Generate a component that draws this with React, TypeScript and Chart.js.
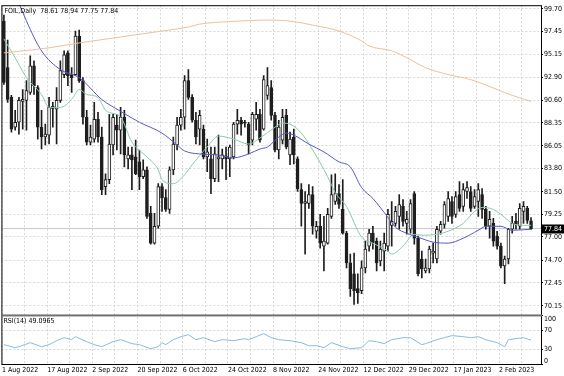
import React, { useEffect, useRef } from 'react';
import { Chart, registerables } from 'chart.js';

Chart.register(...registerables);

const SYMBOL = 'FOIL';
const PERIOD = 'Daily';
const RSI_NAME = 'RSI(14)';
const RSI_LAST = '49.0965';

const X_LABELS = ['1 Aug 2022', '17 Aug 2022', '2 Sep 2022', '20 Sep 2022', '6 Oct 2022', '24 Oct 2022', '8 Nov 2022', '24 Nov 2022', '12 Dec 2022', '29 Dec 2022', '17 Jan 2023', '2 Feb 2023'];
const PRICE_TICKS = [99.70, 97.45, 95.15, 92.90, 90.60, 88.35, 86.05, 83.80, 81.50, 79.25, 77.00, 74.70, 72.45, 70.15];
const RSI_TICKS = [0, 30, 70, 100];

const OPEN = [
  98.47, 93.84, 90.88, 87.92, 88.41, 90.48, 90.58, 91.37, 94.03, 91.86,
  87.92, 86.94, 87.13, 89.99, 89.70, 90.58, 93.15, 95.31, 93.15, 93.15,
  96.99, 92.55, 88.91, 86.44, 86.74, 88.71, 86.94, 82.01, 82.70, 86.15,
  88.12, 87.63, 88.91, 84.77, 85.16, 84.97, 84.47, 83.00, 83.68, 79.35,
  76.39, 78.07, 82.01, 80.92, 79.74, 83.68, 86.15, 88.12, 88.91, 92.55,
  90.88, 88.61, 87.73, 87.73, 84.97, 84.77, 82.80, 84.77, 84.77, 85.06,
  84.77, 84.97, 88.22, 88.61, 88.41, 88.22, 86.64, 88.71, 89.20, 87.73,
  91.08, 91.86, 89.10, 85.65, 86.64, 89.10, 85.16, 86.94, 84.77, 81.71,
  80.33, 80.33, 81.22, 77.57, 78.07, 76.09, 76.39, 79.05, 80.53, 81.32,
  79.74, 77.38, 74.42, 73.33, 71.86, 71.66, 73.93, 76.09, 77.38, 76.59,
  74.62, 75.60, 76.09, 78.16, 78.36, 79.05, 80.04, 78.36, 77.77, 81.32,
  76.88, 74.81, 73.63, 73.83, 75.40, 74.81, 77.57, 78.26, 79.05, 80.53,
  79.25, 81.22, 80.04, 81.52, 81.52, 80.04, 80.53, 81.22, 79.74, 78.07,
  78.36, 77.08, 76.09, 74.12, 74.81, 77.77, 78.56, 78.07, 79.54, 79.84,
  78.61,
];
const HIGH = [
  99.06, 96.59, 91.08, 89.59, 90.88, 91.67, 92.55, 95.02, 94.53, 92.06,
  89.59, 88.22, 90.88, 90.39, 91.86, 94.53, 95.51, 95.51, 93.84, 97.48,
  97.58, 92.85, 89.59, 88.12, 90.39, 89.40, 87.92, 83.29, 89.20, 89.20,
  89.20, 89.89, 89.59, 85.95, 85.95, 86.64, 85.65, 84.67, 83.98, 80.04,
  79.35, 82.30, 82.30, 81.71, 83.98, 86.94, 88.91, 89.70, 93.05, 93.64,
  91.17, 89.40, 89.59, 88.12, 86.74, 85.95, 85.95, 87.13, 85.75, 85.95,
  86.15, 88.41, 89.70, 88.91, 88.61, 88.41, 89.40, 90.39, 89.70, 93.05,
  93.84, 92.55, 89.40, 88.61, 89.70, 89.70, 87.43, 87.73, 84.97, 82.30,
  81.52, 82.21, 82.01, 78.56, 79.25, 79.05, 79.84, 83.19, 83.29, 82.21,
  82.70, 77.57, 75.30, 75.40, 73.33, 74.62, 76.59, 77.77, 78.07, 76.88,
  76.59, 77.38, 79.74, 80.53, 80.04, 81.22, 80.73, 79.54, 80.73, 81.52,
  77.08, 75.60, 74.81, 76.09, 76.39, 78.07, 78.56, 80.53, 81.52, 81.02,
  81.52, 82.50, 82.30, 82.50, 82.01, 81.71, 82.30, 81.81, 80.04, 79.54,
  78.85, 77.57, 76.39, 75.11, 77.87, 79.05, 79.35, 80.33, 80.53, 80.04,
  78.94,
];
const LOW = [
  92.16, 90.39, 87.43, 87.63, 87.23, 87.73, 87.63, 91.17, 91.17, 86.74,
  85.75, 86.15, 86.25, 87.92, 86.25, 90.39, 92.85, 92.06, 91.37, 93.05,
  92.36, 88.22, 86.15, 86.15, 86.44, 86.44, 81.22, 81.22, 82.30, 85.16,
  85.65, 85.26, 83.98, 83.78, 81.71, 83.19, 81.71, 82.80, 78.85, 76.29,
  76.29, 77.87, 79.54, 79.54, 79.35, 83.19, 85.65, 87.63, 87.73, 90.68,
  88.41, 86.25, 86.15, 84.77, 83.49, 81.32, 82.50, 82.50, 83.78, 82.70,
  83.00, 84.77, 87.23, 87.13, 87.92, 85.26, 86.15, 87.63, 86.44, 87.63,
  90.68, 88.61, 85.46, 84.77, 86.25, 85.75, 84.18, 84.27, 81.52, 78.07,
  75.30, 79.84, 77.28, 76.88, 75.90, 73.63, 76.29, 78.85, 80.23, 79.84,
  77.28, 73.93, 71.10, 70.30, 70.40, 71.36, 73.43, 75.60, 75.80, 73.63,
  74.12, 73.63, 75.60, 76.09, 78.07, 77.77, 78.07, 77.28, 77.38, 76.29,
  73.14, 72.94, 73.43, 73.43, 74.42, 74.42, 77.28, 77.87, 78.56, 78.36,
  78.95, 79.54, 79.54, 80.83, 79.54, 79.84, 79.05, 78.85, 77.77, 76.88,
  76.09, 75.80, 73.93, 72.35, 74.32, 77.38, 77.77, 77.77, 78.36, 78.36,
  77.75,
];
const CLOSE = [
  92.36, 90.68, 87.73, 88.41, 90.58, 90.68, 91.57, 94.03, 92.06, 87.92,
  86.94, 87.23, 89.89, 89.79, 90.58, 93.54, 95.12, 93.05, 92.85, 96.99,
  92.55, 88.91, 86.44, 86.94, 88.71, 86.94, 81.71, 82.70, 86.25, 88.91,
  87.63, 88.91, 85.16, 85.16, 84.67, 83.29, 83.00, 83.68, 79.05, 76.39,
  78.07, 82.01, 80.92, 79.74, 83.68, 86.25, 88.12, 88.91, 92.55, 90.88,
  88.61, 86.94, 89.10, 84.97, 85.46, 82.80, 85.26, 84.97, 85.16, 84.77,
  85.95, 88.22, 88.61, 88.22, 88.32, 86.15, 89.20, 89.20, 86.64, 92.65,
  92.06, 89.10, 85.65, 87.92, 88.91, 85.95, 86.74, 85.16, 81.81, 80.33,
  80.53, 81.22, 78.07, 78.07, 76.39, 76.59, 79.25, 81.22, 81.32, 80.23,
  77.38, 74.42, 71.86, 71.66, 71.46, 73.93, 75.80, 77.38, 76.39, 74.42,
  75.80, 76.39, 79.25, 78.56, 79.54, 80.23, 78.56, 78.76, 80.33, 76.88,
  73.33, 73.83, 73.93, 75.80, 75.60, 77.77, 78.26, 80.23, 80.83, 79.05,
  81.02, 79.84, 81.71, 81.91, 79.84, 81.02, 81.71, 79.74, 78.07, 78.76,
  76.59, 76.09, 74.12, 74.81, 77.77, 78.36, 78.26, 79.84, 80.04, 78.66,
  77.84,
];

// slow moving average (tan), read at sampled bars
const MA_SLOW_IDX = [0, 12, 20, 31, 42, 49, 52, 60, 71, 76, 82, 89, 95, 97, 103, 107, 112, 118, 124, 131, 135, 140];
const MA_SLOW = [95.31, 95.81, 96.30, 96.89, 97.48, 97.88, 98.17, 98.42, 98.57, 98.47, 98.07, 97.48, 96.50, 96.00, 95.51, 94.82, 93.84, 93.15, 92.65, 91.67, 91.08, 90.49];
// medium moving average (blue)
const MA_MID_IDX = [0, 4, 6, 10, 15, 20, 26, 31, 36, 42, 46, 48, 52, 57, 61, 65, 68, 70, 73, 75, 77, 81, 85, 89, 92, 95, 98, 102, 104, 107, 110, 114, 118, 122, 126, 128, 132, 135, 140];
const MA_MID = [103.2, 100.24, 98.47, 95.51, 93.64, 92.85, 90.68, 89.50, 88.41, 87.33, 86.15, 85.56, 85.26, 85.16, 84.87, 85.26, 85.75, 85.95, 86.93, 87.33, 87.13, 86.24, 85.46, 84.47, 83.98, 81.91, 80.83, 78.95, 77.97, 77.37, 76.98, 76.49, 76.39, 76.88, 77.67, 78.06, 78.06, 77.67, 77.77];
// fast moving average (green)
const MA_FAST_IDX = [0, 3, 6, 10, 12, 15, 18, 20, 22, 25, 27, 31, 34, 38, 41, 42, 45, 48, 50, 54, 57, 61, 65, 68, 72, 74, 76, 79, 82, 86, 88, 91, 95, 98, 102, 103, 106, 109, 111, 115, 118, 122, 125, 127, 130, 133, 135, 138, 140];
const MA_FAST = [96.70, 94.82, 92.85, 91.17, 89.89, 89.89, 90.68, 91.67, 91.17, 90.88, 89.60, 88.91, 86.44, 84.96, 83.68, 82.70, 82.30, 83.19, 84.18, 85.95, 87.03, 86.74, 86.24, 86.84, 87.92, 88.32, 88.22, 87.33, 85.66, 82.99, 81.42, 80.04, 76.98, 76.39, 75.60, 75.30, 76.09, 77.27, 77.17, 77.27, 77.57, 78.36, 79.54, 79.94, 79.74, 78.95, 78.36, 78.16, 78.16];

const RSI_IDX = [0, 3, 4, 7, 10, 12, 14, 16, 18, 19, 22, 24, 26, 29, 31, 34, 36, 39, 41, 42, 43, 45, 47, 49, 51, 53, 56, 58, 61, 64, 65, 67, 69, 71, 73, 76, 79, 81, 83, 85, 87, 90, 92, 95, 97, 99, 101, 103, 106, 108, 111, 112, 115, 117, 119, 122, 124, 126, 128, 131, 133, 134, 136, 138, 140];
const RSI_VAL = [39.8, 33.6, 35.7, 43.9, 35.7, 39.8, 48.0, 54.2, 50.1, 56.3, 46.0, 39.8, 35.7, 46.0, 50.1, 41.9, 39.8, 31.5, 35.7, 43.9, 39.8, 50.1, 56.3, 60.4, 50.1, 54.2, 46.0, 50.1, 48.0, 52.2, 50.1, 56.3, 62.5, 54.2, 50.1, 48.0, 43.9, 37.7, 37.7, 33.6, 43.9, 35.7, 31.5, 33.6, 48.0, 46.0, 41.9, 50.1, 54.2, 54.2, 39.8, 41.9, 50.1, 54.2, 58.4, 56.3, 54.2, 56.3, 50.1, 43.9, 35.7, 50.1, 52.2, 54.2, 49.1];

const FONT = "'Liberation Sans Narrow', 'DejaVu Sans Condensed', 'Liberation Sans', Arial, sans-serif";
const GRID = '#d6d6d6';
const CANDLE = '#1e1e1e';
const X_MIN = -0.66;
const X_MAX = 142.65;
const PRICE_MIN = 69.2;
const PRICE_MAX = 100.05;

const pts = (idx: number[], vals: number[]) => idx.map((x, i) => ({ x, y: vals[i] }));

const decor = {
  id: 'decor',
  beforeDraw(chart: any) {
    const { ctx, width, height } = chart;
    ctx.save();
    ctx.fillStyle = '#ffffff';
    ctx.fillRect(0, 0, width, height);
    ctx.restore();
  },
  afterDraw(chart: any) {
    const { ctx, chartArea } = chart;
    const y = chart.scales.y;
    const r = chart.scales.yR;
    const L = chartArea.left;
    const R = chartArea.right;
    ctx.save();
    ctx.strokeStyle = '#000';
    ctx.lineWidth = 1;
    ctx.strokeRect(L + 0.5, y.top + 0.5, R - L, r.bottom - y.top);
    // panel separator
    ctx.fillStyle = '#707070';
    ctx.fillRect(L, y.bottom - 1, R - L + 1, 2);
    // last price box
    const last = CLOSE.length - 1;
    const py = y.getPixelForValue(CLOSE[last]);
    ctx.fillStyle = '#000';
    ctx.fillRect(R + 1, Math.round(py) - 4.5, 23, 9);
    ctx.fillStyle = '#fff';
    ctx.font = `7px ${FONT}`;
    ctx.textBaseline = 'middle';
    ctx.textAlign = 'left';
    ctx.fillText(CLOSE[last].toFixed(2), R + 3, Math.round(py));
    // RSI scale end labels kept inside the pane, as in the terminal
    ctx.fillStyle = '#000';
    const rsiTop = RSI_TICKS[RSI_TICKS.length - 1];
    const rsiBottom = RSI_TICKS[0];
    ctx.fillText(String(rsiTop), R + 3, r.getPixelForValue(rsiTop) + 4);
    ctx.fillText(String(rsiBottom), R + 3, r.getPixelForValue(rsiBottom) - 3);
    // captions
    ctx.fillText(`${SYMBOL},${PERIOD}  ${OPEN[last].toFixed(2)} ${HIGH[last].toFixed(2)} ${LOW[last].toFixed(2)} ${CLOSE[last].toFixed(2)}`, L + 3, y.top + 6);
    ctx.fillText(`${RSI_NAME} ${RSI_LAST}`, L + 2, r.top + 6);
    ctx.restore();
  },
};

export default function App() {
  const ref = useRef<HTMLCanvasElement | null>(null);
  useEffect(() => {
    if (!ref.current) return;
    const last = CLOSE.length - 1;
    const bodies = OPEN.map((o, i) => ({ x: i, y: [o, CLOSE[i]] }));
    const wicks = LOW.map((l, i) => ({ x: i, y: [l, HIGH[i]] }));
    const chart = new Chart(ref.current, {
      type: 'bar',
      data: {
        datasets: [
          {
            type: 'line',
            data: pts(MA_SLOW_IDX, MA_SLOW) as any,
            borderColor: '#ecc29a',
            borderWidth: 1,
            pointRadius: 0,
            cubicInterpolationMode: 'monotone',
            yAxisID: 'y',
            order: 0,
          },
          {
            type: 'line',
            data: pts(MA_MID_IDX, MA_MID) as any,
            borderColor: '#5a58c6',
            borderWidth: 1,
            pointRadius: 0,
            cubicInterpolationMode: 'monotone',
            yAxisID: 'y',
            order: 0,
          },
          {
            type: 'line',
            data: pts(MA_FAST_IDX, MA_FAST) as any,
            borderColor: '#8ccaa8',
            borderWidth: 1,
            pointRadius: 0,
            cubicInterpolationMode: 'monotone',
            yAxisID: 'y',
            order: 0,
          },
          {
            type: 'line',
            data: pts(RSI_IDX, RSI_VAL) as any,
            borderColor: '#86bce6',
            borderWidth: 1,
            pointRadius: 0,
            tension: 0,
            yAxisID: 'yR',
            order: 0,
          },
          {
            type: 'bar',
            data: bodies as any,
            backgroundColor: bodies.map((b, i) => (CLOSE[i] >= OPEN[i] ? '#ffffff' : CANDLE)),
            borderColor: CANDLE,
            borderWidth: 1,
            borderSkipped: false,
            barThickness: 3,
            minBarLength: 1,
            grouped: false,
            yAxisID: 'y',
            order: 1,
          },
          {
            type: 'bar',
            data: wicks as any,
            backgroundColor: CANDLE,
            borderWidth: 0,
            barThickness: 1,
            grouped: false,
            yAxisID: 'y',
            order: 2,
          },
          {
            type: 'line',
            data: [{ x: X_MIN, y: CLOSE[last] }, { x: X_MAX, y: CLOSE[last] }] as any,
            borderColor: '#c8c8c8',
            borderWidth: 1,
            pointRadius: 0,
            yAxisID: 'y',
            order: 3,
          },
        ],
      },
      options: {
        animation: false,
        responsive: false,
        devicePixelRatio: 1,
        events: [],
        layout: { padding: { left: 1, top: 2, right: 0, bottom: 0 } },
        plugins: { legend: { display: false }, tooltip: { enabled: false }, title: { display: false } },
        scales: {
          x: {
            type: 'linear',
            min: X_MIN,
            max: X_MAX,
            offset: false,
            afterBuildTicks: (s: any) => {
              const t = [];
              for (let k = 0; k * 6 - 0.5 < X_MAX - 2; k++) t.push({ value: k * 6 - 0.5 });
              s.ticks = t;
            },
            afterFit: (s: any) => { s.height = 12; },
            ticks: {
              autoSkip: false,
              maxRotation: 0,
              minRotation: 0,
              align: 'start',
              padding: 2,
              color: '#000',
              font: { family: FONT, size: 7 },
              callback: (_v: any, i: number) => (i % 2 === 0 ? X_LABELS[i / 2] ?? '' : ''),
            },
            grid: { color: GRID, drawTicks: false, offset: false },
            border: { display: false, dash: [2, 2] },
          },
          y: {
            type: 'linear',
            position: 'right',
            stack: 'panes',
            stackWeight: 313,
            min: PRICE_MIN,
            max: PRICE_MAX,
            afterBuildTicks: (s: any) => { s.ticks = PRICE_TICKS.map((v) => ({ value: v })); },
            afterFit: (s: any) => { s.width = 23; },
            ticks: {
              autoSkip: false,
              padding: 1,
              color: '#000',
              font: { family: FONT, size: 7 },
              callback: (v: any) => Number(v).toFixed(2),
            },
            grid: { color: GRID, tickLength: 2, tickColor: '#000' },
            border: { display: false, dash: [2, 2] },
          },
          yR: {
            type: 'linear',
            position: 'right',
            stack: 'panes',
            stackWeight: 49,
            weight: 1,
            min: 0,
            max: 100,
            afterBuildTicks: (s: any) => { s.ticks = RSI_TICKS.map((v) => ({ value: v })); },
            afterFit: (s: any) => { s.width = 23; },
            ticks: {
              autoSkip: false,
              padding: 1,
              color: '#000',
              font: { family: FONT, size: 7 },
              callback: (v: any) => (v === 30 || v === 70 ? String(v) : ''),
            },
            grid: {
              color: (c: any) => (c.tick && (c.tick.value === 30 || c.tick.value === 70) ? GRID : 'rgba(0,0,0,0)'),
              tickLength: 2,
              tickColor: '#000',
            },
            border: { display: false, dash: [2, 2] },
          },
        },
      } as any,
      plugins: [decor],
    });
    return () => chart.destroy();
  }, []);

  return (
    <div style={{ position: 'absolute', left: 0, top: 0, width: 564, height: 376, background: '#fff' }}>
      <canvas ref={ref} width={564} height={376} />
    </div>
  );
}
